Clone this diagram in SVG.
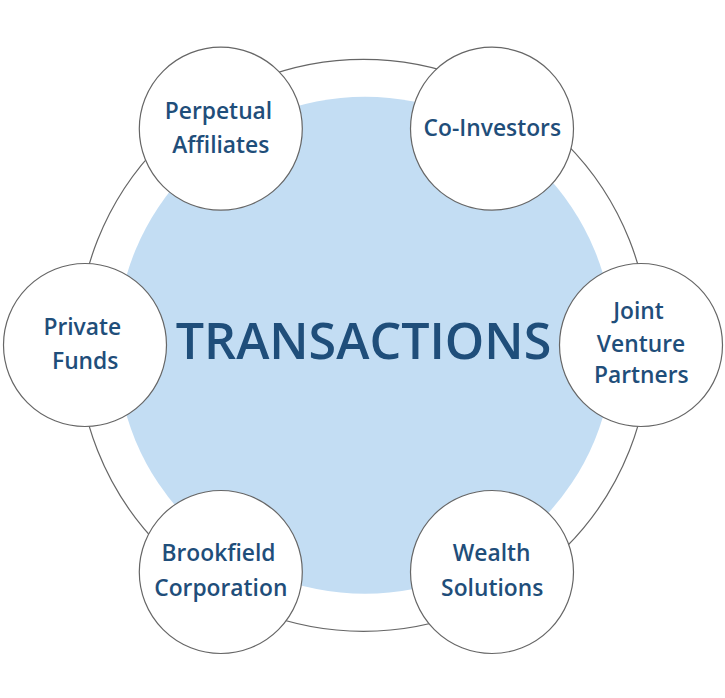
<svg xmlns="http://www.w3.org/2000/svg" width="725" height="698" viewBox="0 0 725 698">
<style>
.node circle{fill:#ffffff;stroke:#666666;stroke-width:1.2}
.lbl{font-family:"Open Sans","Noto Sans","Liberation Sans",sans-serif;font-weight:600;font-size:22.8px;fill:#1f4e7a;text-anchor:middle}
.title{font-family:"Open Sans","Noto Sans","Liberation Sans",sans-serif;font-weight:600;font-size:50.2px;fill:#1f4e7a;text-anchor:middle}
</style>
<rect width="725" height="698" fill="#ffffff"/>
<g id="connectors">
<circle cx="363.5" cy="345.3" r="286" fill="none" stroke="#666666" stroke-width="1.2"/>
</g>
<g id="center">
<circle cx="365" cy="345.3" r="248.5" fill="#c3ddf3"/>
<text class="title" x="363.5" y="359.3">TRANSACTIONS</text>
</g>
<g id="perpetual-affiliates" class="node">
<circle cx="220.8" cy="128.7" r="81.5"/>
<text class="lbl" x="218.5" y="119.3">Perpetual</text>
<text class="lbl" x="220.8" y="152.7">Affiliates</text>
</g>
<g id="co-investors" class="node">
<circle cx="492" cy="128.7" r="81.5"/>
<text class="lbl" x="492.3" y="136">Co-Investors</text>
</g>
<g id="joint-venture-partners" class="node">
<circle cx="641" cy="345" r="81.5"/>
<text class="lbl" x="638.5" y="319.3">Joint</text>
<text class="lbl" x="641" y="351.7">Venture</text>
<text class="lbl" x="641.3" y="383.3">Partners</text>
</g>
<g id="wealth-solutions" class="node">
<circle cx="492" cy="572" r="81.5"/>
<text class="lbl" x="491.7" y="561.3">Wealth</text>
<text class="lbl" x="492.2" y="595.7">Solutions</text>
</g>
<g id="brookfield-corporation" class="node">
<circle cx="220.8" cy="572" r="81.5"/>
<text class="lbl" x="218.5" y="561.3">Brookfield</text>
<text class="lbl" x="220.8" y="595.7">Corporation</text>
</g>
<g id="private-funds" class="node">
<circle cx="85" cy="345" r="81.5"/>
<text class="lbl" x="82.3" y="335">Private</text>
<text class="lbl" x="85.2" y="369">Funds</text>
</g>
</svg>
